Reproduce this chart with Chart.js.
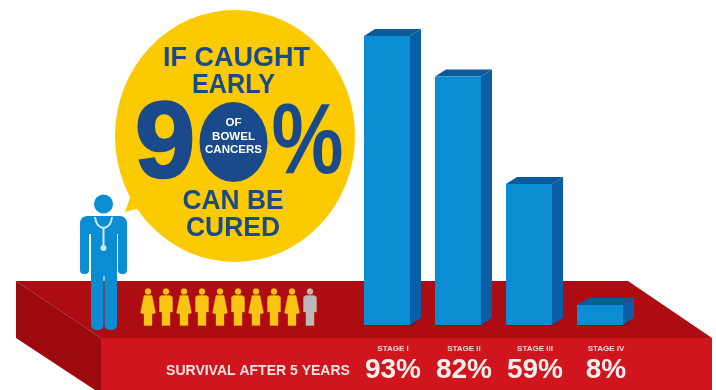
<!DOCTYPE html>
<html>
<head>
<meta charset="utf-8">
<title>Bowel cancer survival</title>
<script src="https://cdn.jsdelivr.net/npm/chart.js@4/dist/chart.umd.js"></script>
<style>
    html, body { margin: 0; padding: 0; background: #fff; }
    /* the source picture is a soft, upscaled image */
    canvas { display: block; filter: blur(0.5px); }
</style>
</head>
<body>
<canvas id="survivalChart" width="716" height="390"></canvas>
<script>
// Stage names and the printed survival figures
var stages = ['STAGE I', 'STAGE II', 'STAGE III', 'STAGE IV'];
var survivalLabels = ['93%', '82%', '59%', '8%'];
// Bar heights as drawn in the picture, they do not follow the printed figures
var barHeights = [93, 80, 45.4, 6.4];
// Ten people, nine of them cured
var peopleColors = ['#f9c414', '#f9c414', '#f9c414', '#f9c414', '#f9c414', '#f9c414', '#f9c414', '#f9c414', '#f9c414', '#b9b8bb'];

var FONT = '"Liberation Sans", Arial, sans-serif';
var NAVY = '#1a4a8b';
var BLUE = '#0b8dd3';
var DEPTH_X = 11;
var DEPTH_Y = 7;

function poly(ctx, pts, color) {
    ctx.beginPath();
    ctx.moveTo(pts[0], pts[1]);
    for (var i = 2; i < pts.length; i += 2) {
        ctx.lineTo(pts[i], pts[i + 1]);
    }
    ctx.closePath();
    ctx.fillStyle = color;
    ctx.fill();
}

function label(ctx, text, x, y, font, color, maxWidth) {
    ctx.font = font + ' ' + FONT;
    ctx.fillStyle = color;
    ctx.textAlign = 'center';
    ctx.textBaseline = 'middle';
    ctx.fillText(text, x, y, maxWidth);
}

function drawPlatform(ctx) {
    poly(ctx, [16, 281, 628, 281, 712, 338, 101, 338], '#ad0c13');
    poly(ctx, [16, 281, 101, 338, 101, 390, 95, 390, 16, 338], '#9c0a10');
    poly(ctx, [101, 338, 712, 338, 712, 390, 101, 390], '#d0151f');
}

function drawBubble(ctx) {
    ctx.fillStyle = '#fcca00';
    ctx.beginPath();
    ctx.ellipse(235, 136, 120, 126, 0, 0, Math.PI * 2);
    ctx.fill();
    poly(ctx, [125, 212, 132, 192, 140, 208], '#fcca00');

    label(ctx, 'IF CAUGHT', 236.5, 58, 'bold 28px', NAVY, 147);
    label(ctx, 'EARLY', 233.5, 85, 'bold 28px', NAVY, 83);

    // Heavy 9 with a slight outline, the original numeral is rounder than the font
    label(ctx, '9', 165, 147, 'bold 108px', NAVY);
    ctx.strokeStyle = NAVY;
    ctx.lineWidth = 2.5;
    ctx.strokeText('9', 165, 147);

    ctx.fillStyle = NAVY;
    ctx.beginPath();
    ctx.ellipse(233.5, 142, 34, 40, 0, 0, Math.PI * 2);
    ctx.fill();
    label(ctx, 'OF', 233.5, 123, 'bold 11.5px', '#fff');
    label(ctx, 'BOWEL', 233.5, 137, 'bold 11.5px', '#fff', 47);
    label(ctx, 'CANCERS', 233.5, 150, 'bold 11.5px', '#fff', 63);

    label(ctx, '%', 307.5, 145, 'bold 100px', NAVY, 72);
    label(ctx, 'CAN BE', 233, 202, 'bold 27px', NAVY, 101);
    label(ctx, 'CURED', 233, 229, 'bold 27px', NAVY, 94);
}

function drawDoctor(ctx) {
    ctx.fillStyle = BLUE;
    ctx.beginPath();
    ctx.arc(103.5, 204, 9.5, 0, Math.PI * 2);
    ctx.fill();
    ctx.beginPath();
    ctx.roundRect(80, 216, 47, 18, 7);
    ctx.fill();
    ctx.beginPath();
    ctx.roundRect(80, 220, 9, 54, 4);
    ctx.roundRect(118, 220, 9, 54, 4);
    ctx.roundRect(91, 220, 12.5, 110, 5);
    ctx.roundRect(104.5, 220, 12.5, 110, 5);
    ctx.fill();
    ctx.fillRect(91, 220, 26, 56);

    // Stethoscope
    ctx.strokeStyle = '#cfe8f6';
    ctx.lineWidth = 2;
    ctx.beginPath();
    ctx.moveTo(95, 217);
    ctx.quadraticCurveTo(96, 227, 103.5, 228);
    ctx.quadraticCurveTo(111, 227, 112, 217);
    ctx.moveTo(103.5, 228);
    ctx.lineTo(103.5, 246);
    ctx.stroke();
    ctx.fillStyle = '#cfe8f6';
    ctx.beginPath();
    ctx.arc(103.5, 248, 3, 0, Math.PI * 2);
    ctx.fill();
}

// Women and men alternate along the row
function drawPerson(ctx, x, color, isWoman) {
    ctx.beginPath();
    ctx.arc(x, 291.5, 3, 0, Math.PI * 2);
    ctx.moveTo(x - 4, 295.5);
    ctx.lineTo(x + 4, 295.5);
    if (isWoman) {
        ctx.lineTo(x + 7.5, 313);
        ctx.lineTo(x + 4, 314);
    } else {
        ctx.lineTo(x + 6.5, 297);
        ctx.lineTo(x + 6.5, 312);
        ctx.lineTo(x + 4, 312);
    }
    ctx.lineTo(x + 4, 325.5);
    ctx.lineTo(x - 4, 325.5);
    if (isWoman) {
        ctx.lineTo(x - 4, 314);
        ctx.lineTo(x - 7.5, 313);
    } else {
        ctx.lineTo(x - 4, 312);
        ctx.lineTo(x - 6.5, 312);
        ctx.lineTo(x - 6.5, 297);
    }
    ctx.closePath();
    ctx.fillStyle = color;
    ctx.strokeStyle = 'rgba(240, 120, 30, 0.55)';
    ctx.lineWidth = 1;
    ctx.stroke();
    ctx.fill();
}

var scenery = {
    id: 'scenery',
    beforeDraw: function(chart) {
        var ctx = chart.ctx;
        ctx.save();
        drawPlatform(ctx);
        drawBubble(ctx);
        peopleColors.forEach(function(color, i) {
            drawPerson(ctx, 148 + i * 18, color, i % 2 === 0);
        });
        drawDoctor(ctx);
        label(ctx, 'SURVIVAL AFTER 5 YEARS', 258, 371, 'bold 14px', '#fbe3e0', 189);
        ctx.restore();
    },
    // Side and top faces of each bar, taken from the bar the library laid out
    beforeDatasetsDraw: function(chart) {
        var ctx = chart.ctx;
        chart.getDatasetMeta(0).data.forEach(function(bar) {
            var left = bar.x - bar.width / 2;
            var right = bar.x + bar.width / 2;
            poly(ctx, [left, bar.base + 1, right + 3, bar.base + 1, right + DEPTH_X, bar.base - DEPTH_Y, left, bar.base - DEPTH_Y], '#98090f');
            poly(ctx, [right, bar.y, right + DEPTH_X, bar.y - DEPTH_Y, right + DEPTH_X, bar.base - DEPTH_Y, right, bar.base], '#0a5ea6');
            poly(ctx, [left, bar.y, left + DEPTH_X, bar.y - DEPTH_Y, right + DEPTH_X, bar.y - DEPTH_Y, right, bar.y], '#0c5a9e');
        });
    },
    afterDraw: function(chart) {
        var xScale = chart.scales.x;
        survivalLabels.forEach(function(text, i) {
            label(chart.ctx, text, xScale.getPixelForTick(i) + 6, 370, 'bold 28px', '#fdf0ec', 60);
        });
    }
};

new Chart(document.getElementById('survivalChart'), {
    type: 'bar',
    data: {
        labels: stages,
        datasets: [{
            label: 'Survival after 5 years',
            data: barHeights,
            backgroundColor: BLUE,
            borderWidth: 0,
            barPercentage: 0.648,
            categoryPercentage: 1
        }]
    },
    options: {
        responsive: false,
        animation: false,
        layout: {
            padding: { left: 351.5, right: 80.5, top: 36, bottom: 0 }
        },
        plugins: {
            legend: { display: false },
            tooltip: { enabled: false }
        },
        scales: {
            x: {
                afterFit: function(scale) { scale.height = 65; },
                grid: { display: false },
                border: { display: false },
                ticks: {
                    color: '#fbdcd8',
                    font: { family: FONT, size: 8, weight: 'bold' },
                    padding: 11,
                    labelOffset: 6,
                    maxRotation: 0,
                    autoSkip: false
                }
            },
            y: {
                display: false,
                min: 0,
                max: 93
            }
        }
    },
    plugins: [scenery]
});
</script>
</body>
</html>
